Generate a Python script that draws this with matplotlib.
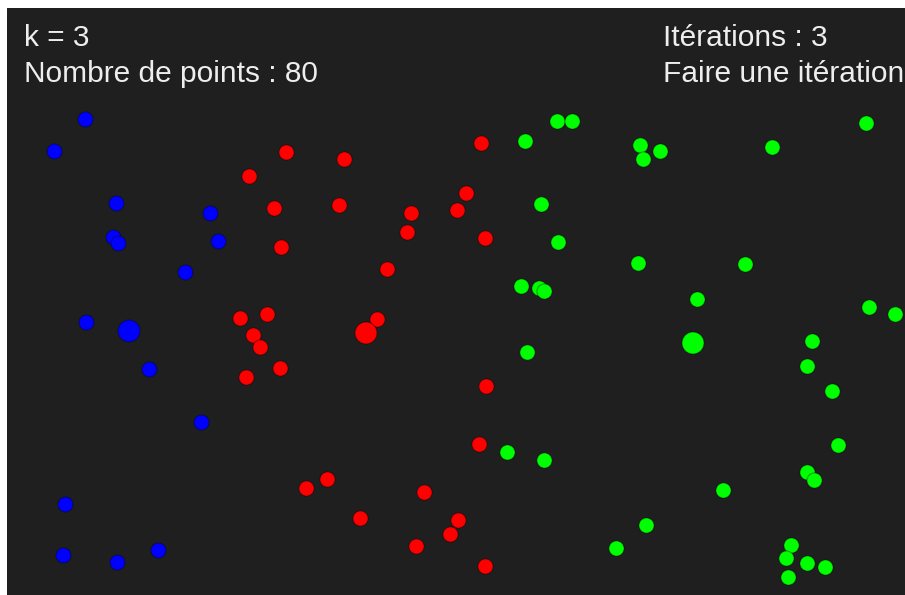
import numpy as np
import matplotlib
matplotlib.use("Agg")
import matplotlib.pyplot as plt

# points, in canvas pixels (x right, y down)
blue_x = [85, 54, 116, 210, 113, 118, 218, 185, 86, 149, 201, 65, 63, 117, 158]
blue_y = [119, 151, 203, 213, 237, 243, 241, 272, 322, 369, 422, 504, 555, 562, 550]

red_x = [286, 344, 249, 481, 274, 339, 466, 411, 457, 407, 485, 281, 387, 240, 267,
         377, 253, 260, 280, 246, 486, 479, 306, 327, 424, 360, 458, 450, 416, 485]
red_y = [152, 159, 176, 143, 208, 205, 193, 213, 210, 232, 238, 247, 269, 318, 314,
         319, 335, 347, 368, 377, 386, 444, 488, 479, 492, 518, 520, 534, 546, 566]

green_x = [640, 643, 660, 772, 866, 557, 572, 525, 541, 558, 521, 539, 544, 527,
           507, 544, 638, 745, 697, 869, 895, 812, 807, 832, 838, 807, 814, 723,
           646, 616, 791, 786, 807, 825, 788]
green_y = [145, 159, 151, 147, 123, 121, 121, 141, 204, 242, 286, 288, 291, 352,
           452, 460, 263, 264, 299, 307, 314, 341, 366, 391, 445, 472, 480, 490,
           525, 548, 545, 558, 563, 567, 577]

# centroids (bigger dots)
cent_x = [129, 366, 693]
cent_y = [331, 333, 343]
colors = ["#0000ff", "#ff0000", "#00ff00"]

k = 3
n_points = len(blue_x) + len(red_x) + len(green_x)
iterations = 3

fig = plt.figure(figsize=(9.05, 5.95), dpi=100)
fig.patch.set_facecolor("white")
ax = fig.add_axes([7 / 905, 0, 898 / 905, 587 / 595])
ax.set_facecolor("#1f1f1f")
ax.set_xlim(7, 905)
ax.set_ylim(595, 8)
ax.axis("off")
ax.add_patch(plt.Rectangle((7, 8), 898, 587, color="#1f1f1f", zorder=0))

edge = (0, 0, 0, 0.35)
for xs, ys, c in [(blue_x, blue_y, colors[0]), (red_x, red_y, colors[1]), (green_x, green_y, colors[2])]:
    ax.scatter(xs, ys, s=118, c=c, edgecolors=[edge], linewidths=0.8, zorder=2)
ax.scatter(cent_x, cent_y, s=250, c=colors, edgecolors=[edge], linewidths=0.8, zorder=3)

font = dict(color="#eeeeee", fontsize=21.5, family="Liberation Sans", va="baseline", clip_on=False)
ax.text(24, 45.5, f"k = {k}", **font)
ax.text(24, 82, f"Nombre de points : {n_points}", **font)
ax.text(663, 45.5, f"Itérations : {iterations}", **font)
ax.text(663, 82, "Faire une itération", **font)

fig.savefig("out.png", dpi=100, facecolor="white")
